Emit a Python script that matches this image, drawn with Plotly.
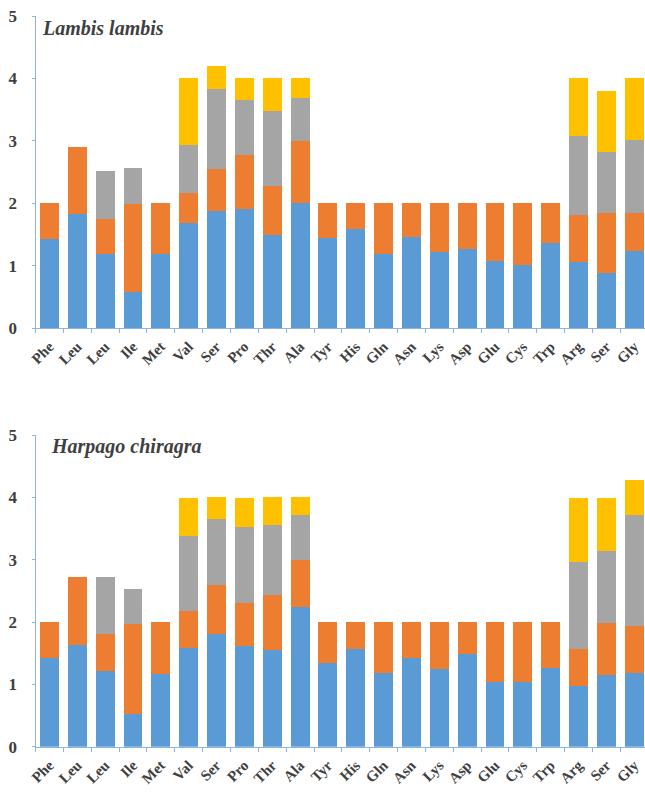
import plotly.graph_objects as go

# Relative synonymous codon usage, stacked by codon for each amino acid
amino_acids = ["Phe", "Leu", "Leu", "Ile", "Met", "Val", "Ser", "Pro", "Thr", "Ala", "Tyr",
               "His", "Gln", "Asn", "Lys", "Asp", "Glu", "Cys", "Trp", "Arg", "Ser", "Gly"]

# Lambis lambis
ll_codon1 = [1.42, 1.83, 1.19, 0.57, 1.19, 1.68, 1.87, 1.90, 1.49, 2.00, 1.45,
             1.59, 1.18, 1.46, 1.22, 1.27, 1.08, 1.01, 1.36, 1.06, 0.88, 1.23]
ll_codon2 = [0.58, 1.07, 0.55, 1.42, 0.81, 0.49, 0.68, 0.87, 0.79, 1.00, 0.55,
             0.41, 0.82, 0.54, 0.78, 0.73, 0.92, 0.99, 0.64, 0.75, 0.96, 0.61]
ll_codon3 = [0, 0, 0.78, 0.58, 0, 0.77, 1.28, 0.89, 1.20, 0.68, 0,
             0, 0, 0, 0, 0, 0, 0, 0, 1.27, 0.98, 1.18]
ll_codon4 = [0, 0, 0, 0, 0, 1.06, 0.37, 0.34, 0.52, 0.32, 0,
             0, 0, 0, 0, 0, 0, 0, 0, 0.92, 0.98, 0.98]

# Harpago chiragra
hc_codon1 = [1.43, 1.63, 1.21, 0.53, 1.16, 1.58, 1.81, 1.61, 1.55, 2.24, 1.35,
             1.57, 1.19, 1.43, 1.24, 1.49, 1.04, 1.03, 1.27, 0.98, 1.15, 1.18]
hc_codon2 = [0.57, 1.09, 0.60, 1.44, 0.84, 0.59, 0.78, 0.70, 0.89, 0.76, 0.65,
             0.43, 0.81, 0.57, 0.76, 0.51, 0.96, 0.97, 0.73, 0.58, 0.84, 0.75]
hc_codon3 = [0, 0, 0.91, 0.56, 0, 1.21, 1.06, 1.22, 1.12, 0.72, 0,
             0, 0, 0, 0, 0, 0, 0, 0, 1.40, 1.15, 1.79]
hc_codon4 = [0, 0, 0, 0, 0, 0.61, 0.36, 0.46, 0.44, 0.28, 0,
             0, 0, 0, 0, 0, 0, 0, 0, 1.03, 0.85, 0.56]

species = ["Lambis lambis", "Harpago chiragra"]
colors = ["#5B9BD5", "#ED7D31", "#A5A5A5", "#FFC000"]

W, H = 645, 792
axis_color = "#8EB4E3"
text_color = "#3F3F3F"
font_family = "Liberation Serif, Times New Roman, serif"

x_pos = list(range(len(amino_acids)))

fig = go.Figure()

panels = [
    (["x", "y"], [ll_codon1, ll_codon2, ll_codon3, ll_codon4]),
    (["x2", "y2"], [hc_codon1, hc_codon2, hc_codon3, hc_codon4]),
]
for (xa, ya), series in panels:
    for vals, col in zip(series, colors):
        fig.add_trace(go.Bar(
            x=x_pos, y=vals, xaxis=xa, yaxis=ya,
            marker=dict(color=col, line=dict(width=0)),
            showlegend=False, hoverinfo="skip",
        ))

x_left = 35.5 / W
x_range = [-0.5, -0.5 + (W - 35.5) / 27.85]

def x_axis(anchor):
    return dict(
        domain=[x_left, 1], anchor=anchor, range=x_range,
        tickmode="array", tickvals=x_pos, ticktext=amino_acids,
        tickangle=-45, ticks="", ticklabelstandoff=3,
        tickfont=dict(family=font_family, size=15, color=text_color, weight="bold"),
        showline=True, linecolor=axis_color, linewidth=1,
        showgrid=False, zeroline=False,
        minor=dict(ticks="outside", tickmode="array",
                   tickvals=[k - 0.5 for k in range(len(amino_acids) + 1)],
                   ticklen=4, tickcolor=axis_color, tickwidth=1, showgrid=False),
        automargin=False, fixedrange=True,
    )

def y_axis(anchor, top_px, bottom_px):
    return dict(
        domain=[1 - bottom_px / H, 1 - top_px / H], anchor=anchor, range=[0, 5],
        tickmode="array", tickvals=[0, 1, 2, 3, 4, 5],
        ticks="outside", ticklen=3, tickcolor=axis_color, ticklabelstandoff=11,
        tickfont=dict(family=font_family, size=17, color=text_color, weight="bold"),
        showline=True, linecolor=axis_color, linewidth=1,
        showgrid=False, zeroline=False, automargin=False, fixedrange=True,
    )

fig.update_layout(
    width=W, height=H,
    margin=dict(l=0, r=0, t=0, b=0),
    paper_bgcolor="white", plot_bgcolor="white",
    barmode="stack", bargap=0.32,
    xaxis=x_axis("y"), yaxis=y_axis("x", 16, 328),
    xaxis2=x_axis("y2"), yaxis2=y_axis("x2", 435, 746.7),
    annotations=[
        dict(text="<b><i>%s</i></b>" % species[0], xref="paper", yref="paper",
             x=40 / W, y=1 - 28 / H, xanchor="left", yanchor="middle", showarrow=False,
             font=dict(family=font_family, size=20, color=text_color)),
        dict(text="<b><i>%s</i></b>" % species[1], xref="paper", yref="paper",
             x=49 / W, y=1 - 446 / H, xanchor="left", yanchor="middle", showarrow=False,
             font=dict(family=font_family, size=20, color=text_color)),
    ],
)

fig.write_html("out.html")
